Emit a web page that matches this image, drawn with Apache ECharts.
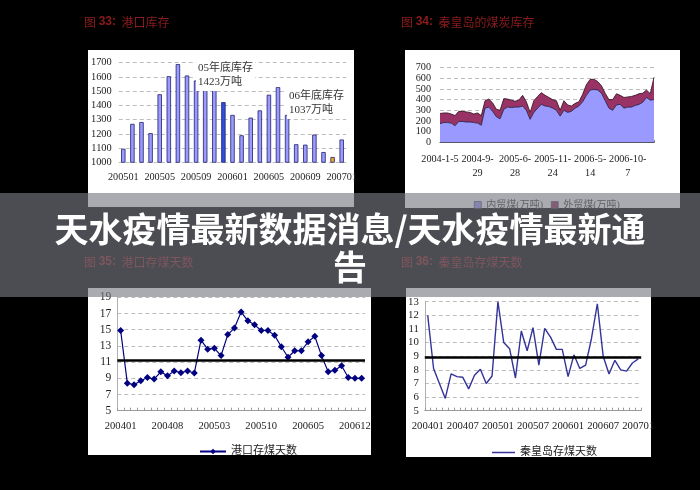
<!DOCTYPE html>
<html><head><meta charset="utf-8">
<script src="https://cdn.jsdelivr.net/npm/echarts@6/dist/echarts.min.js"></script>
<style>html,body{margin:0;padding:0;background:#000}#c{width:700px;height:490px}</style>
</head><body><div id="c"></div>
<script>
// ---- Chart 33: 港口库存 (万吨) ----
const c1Months = ['200501','200502','200503','200504','200505','200506','200507','200508','200509','200510','200511','200512',
  '200601','200602','200603','200604','200605','200606','200607','200608','200609','200610','200611','200612','200701'];
const c1Stock = [1095,1270,1283,1205,1478,1605,1690,1610,1575,1560,1555,1423,
  1333,1190,1314,1365,1475,1528,1333,1127,1124,1195,1072,1037,1160];

// ---- Chart 34: 秦皇岛的煤炭库存 ----
const c2TickLabels = ['2004-1-5','2004-9-\n29','2005-6-\n28','2005-11-\n24','2006-5-\n14','2006-10-\n7'];
const c2Domestic = [175,185,185,180,155,195,195,190,190,185,180,160,
  320,330,290,240,220,310,330,325,330,330,340,300,
  215,280,320,355,340,335,320,300,245,300,280,290,
  320,340,380,440,490,495,490,460,390,320,300,350,
  355,320,330,330,345,355,375,420,395,400];
const c2Foreign = [95,90,90,85,95,95,95,95,90,80,95,90,
  70,75,80,70,80,100,75,70,55,65,100,80,
  65,110,110,110,100,85,80,90,55,90,70,50,
  45,40,70,100,100,95,80,70,70,80,100,105,
  85,100,95,100,95,100,85,70,60,210];

// ---- Chart 35: 港口存煤天数 ----
const c3Months = ['200401','200402','200403','200404','200405','200406','200407','200408','200409','200410','200411','200412',
  '200501','200502','200503','200504','200505','200506','200507','200508','200509','200510','200511','200512',
  '200601','200602','200603','200604','200605','200606','200607','200608','200609','200610','200611','200612','200701'];
const c3Days = [14.9,8.4,8.2,8.7,9.1,8.9,9.8,9.3,9.9,9.7,9.9,9.65,
  13.7,12.6,12.7,11.8,14.4,15.2,17.2,16.1,15.6,14.9,14.9,14.3,
  12.9,11.6,12.4,12.4,13.5,14.2,11.8,9.8,10.0,10.55,9.1,9.0,9.0];
const c3Avg = 11.2;

// ---- Chart 36: 秦皇岛存煤天数 ----
const c4Months = c3Months.slice();
const c4Days = [12.0,8.1,7.0,5.9,7.7,7.5,7.45,6.6,7.6,8.05,7.0,7.55,
  13.0,10.0,9.55,7.4,10.85,9.4,11.1,8.35,11.05,10.4,9.5,9.5,
  7.5,9.1,8.1,8.35,10.3,12.85,9.0,7.7,8.7,8.0,7.9,8.5,8.8];
const c4Avg = 8.9;

const serif = '"Liberation Serif","DejaVu Serif","Noto Sans CJK SC",serif';
const cjk = '"Liberation Serif","Noto Sans CJK SC",serif';
const txt = '#222';
const dash = {show:true, lineStyle:{color:'#bdbdbd', type:[4,3], width:1}};
const plain = v => String(v);

function title(x, y, num, name){
  return {type:'text', x:x, y:y, z:5,
    style:{text:'{a|图 }{b|'+num+':}{a|  '+name+'}', fill:'#8e1c1c', verticalAlign:'middle',
      rich:{a:{font:'12px "Noto Sans CJK SC"', fill:'#8e1c1c'}, b:{font:'bold 12px "Liberation Sans"', fill:'#8e1c1c'}}}};
}

const chart = echarts.init(document.getElementById('c'), null, {renderer:'canvas'});
chart.setOption({
  backgroundColor:'#000',
  animation:false,
  grid:[
    {left:118.75, top:62.7, width:227.5, height:99.6},
    {left:440, top:67.6, width:214, height:74.7},
    {left:117.3, top:297.3, width:247.7, height:113.4},
    {left:424.8, top:301.7, width:216.4, height:109}
  ],
  xAxis:[
    {gridIndex:0, type:'category', data:c1Months, boundaryGap:true,
      axisLine:{show:false}, axisTick:{show:false},
      axisLabel:{interval:3, margin:10, fontFamily:serif, fontSize:10.2, color:txt}},
    {gridIndex:1, type:'category', data:c2Domestic.map((v,i)=>i), boundaryGap:false,
      axisLine:{show:true, lineStyle:{color:'#444', width:1}},
      axisTick:{show:true, interval:0, inside:true, length:2, lineStyle:{color:'#666'}},
      axisLabel:{interval:9, margin:10, fontFamily:serif, fontSize:10.2, color:txt, lineHeight:13.7,
        formatter:(v,i)=> c2TickLabels[Math.round(i/10)] || ''}},
    {gridIndex:2, type:'category', data:c3Months, boundaryGap:true,
      axisLine:{show:true, lineStyle:{color:'#9a9a9a'}},
      axisTick:{show:true, interval:0, inside:true, length:3, lineStyle:{color:'#9a9a9a'}},
      axisLabel:{interval:6, margin:10, fontFamily:serif, fontSize:10.6, color:txt}},
    {gridIndex:3, type:'category', data:c4Months, boundaryGap:true,
      axisLine:{show:true, lineStyle:{color:'#9a9a9a'}},
      axisTick:{show:true, interval:0, inside:true, length:3, lineStyle:{color:'#9a9a9a'}},
      axisLabel:{interval:5, margin:10, fontFamily:serif, fontSize:10.7, color:txt}}
  ],
  yAxis:[
    {gridIndex:0, type:'value', min:1000, max:1700, interval:100,
      axisLine:{show:false}, axisTick:{show:false}, splitLine:dash,
      axisLabel:{margin:7, fontFamily:serif, fontSize:10.4, color:txt, formatter:plain}},
    {gridIndex:1, type:'value', min:0, max:700, interval:100,
      axisLine:{show:false}, axisTick:{show:false}, splitLine:dash,
      axisLabel:{margin:9, fontFamily:serif, fontSize:10.2, color:txt, formatter:plain}},
    {gridIndex:2, type:'value', min:5, max:19, interval:2,
      axisLine:{show:true, lineStyle:{color:'#b0b0b0'}}, axisTick:{show:false}, splitLine:dash,
      axisLabel:{margin:6, fontFamily:serif, fontSize:11.5, color:txt, formatter:plain}},
    {gridIndex:3, type:'value', min:5, max:13, interval:1,
      axisLine:{show:true, lineStyle:{color:'#b0b0b0'}}, axisTick:{show:false}, splitLine:dash,
      axisLabel:{margin:6, fontFamily:serif, fontSize:10.8, color:txt, formatter:plain}}
  ],
  legend:[
    {data:['内贸煤(万吨)','外贸煤(万吨)'], left:469, top:195, icon:'rect', itemWidth:7, itemHeight:7, itemGap:8,
      itemStyle:{borderColor:'#333', borderWidth:0.6},
      textStyle:{fontFamily:cjk, fontSize:10, color:'#333'}},
    {data:['港口存煤天数'], left:194, top:441, itemWidth:26, itemHeight:7,
      textStyle:{fontFamily:cjk, fontSize:11, color:'#222'}},
    {data:['秦皇岛存煤天数'], left:487, top:442, icon:'rect', itemWidth:23, itemHeight:1.5,
      textStyle:{fontFamily:cjk, fontSize:11, color:'#222'}}
  ],
  series:[
    {name:'港口库存', type:'bar', xAxisIndex:0, yAxisIndex:0, data:c1Stock, barWidth:4.4,
      itemStyle:{borderColor:'#22226a', borderWidth:0.8,
        color:p=> p.name==='200512' ? '#2e4fe0' : (p.name==='200612' ? '#f0a52e' : '#9a9aff')}},
    {name:'内贸煤(万吨)', type:'line', xAxisIndex:1, yAxisIndex:1, stack:'qhd', data:c2Domestic,
      symbol:'none', itemStyle:{color:'#9999ff'}, lineStyle:{color:'#1a1a40', width:0.8},
      areaStyle:{color:'#9999ff', opacity:1}},
    {name:'外贸煤(万吨)', type:'line', xAxisIndex:1, yAxisIndex:1, stack:'qhd', data:c2Foreign,
      symbol:'none', itemStyle:{color:'#993366'}, lineStyle:{color:'#2a0a1a', width:0.8},
      areaStyle:{color:'#993366', opacity:1}},
    {name:'港口存煤天数', type:'line', xAxisIndex:2, yAxisIndex:2, data:c3Days,
      symbol:'diamond', symbolSize:7, showAllSymbol:true, itemStyle:{color:'#000080'}, lineStyle:{color:'#000080', width:1.2},
      markLine:{silent:true, symbol:'none', label:{show:false}, lineStyle:{color:'#000', width:2.5, type:'solid'},
        data:[{yAxis:c3Avg}]}},
    {name:'秦皇岛存煤天数', type:'line', xAxisIndex:3, yAxisIndex:3, data:c4Days,
      symbol:'none', itemStyle:{color:'#333399'}, lineStyle:{color:'#333399', width:1.4},
      markLine:{silent:true, symbol:'none', label:{show:false}, lineStyle:{color:'#000', width:2.5, type:'solid'},
        data:[{yAxis:c4Avg}]}}
  ],
  graphic:[
    {type:'rect', z:-10, shape:{x:88, y:50, width:266, height:157}, style:{fill:'#fff'}},
    {type:'rect', z:-10, shape:{x:405, y:50, width:275, height:158}, style:{fill:'#fff'}},
    {type:'rect', z:-10, shape:{x:88, y:288, width:283, height:167}, style:{fill:'#fff'}},
    {type:'rect', z:-10, shape:{x:406, y:288, width:245, height:169}, style:{fill:'#fff'}},
    title(84, 22, '33', '港口库存'),
    title(401, 22, '34', '秦皇岛的煤炭库存'),
    title(84, 262, '35', '港口存煤天数'),
    title(401, 262, '36', '秦皇岛存煤天数'),
    {type:'text', z:20, x:196, y:61, style:{text:'05年底库存\n1423万吨', font:'11px '+cjk, fill:'#333', lineHeight:14,
      backgroundColor:'#fff', padding:[0,2,2,2]}},
    {type:'text', z:20, x:287, y:89, style:{text:'06年底库存\n1037万吨', font:'11px '+cjk, fill:'#333', lineHeight:14,
      backgroundColor:'#fff', padding:[0,2,2,2]}},
    {type:'rect', z:100, shape:{x:0, y:193, width:700, height:104}, style:{fill:'rgba(120,120,132,0.63)'}},
    {type:'text', z:101, x:350, y:229, style:{text:'天水疫情最新数据消息/天水疫情最新通', fill:'#fff',
      font:'bold 34px "Noto Sans CJK SC"', align:'center', verticalAlign:'middle'}},
    {type:'text', z:101, x:350, y:267, style:{text:'告', fill:'#fff',
      font:'bold 34px "Noto Sans CJK SC"', align:'center', verticalAlign:'middle'}}
  ]
});
</script>
</body></html>
